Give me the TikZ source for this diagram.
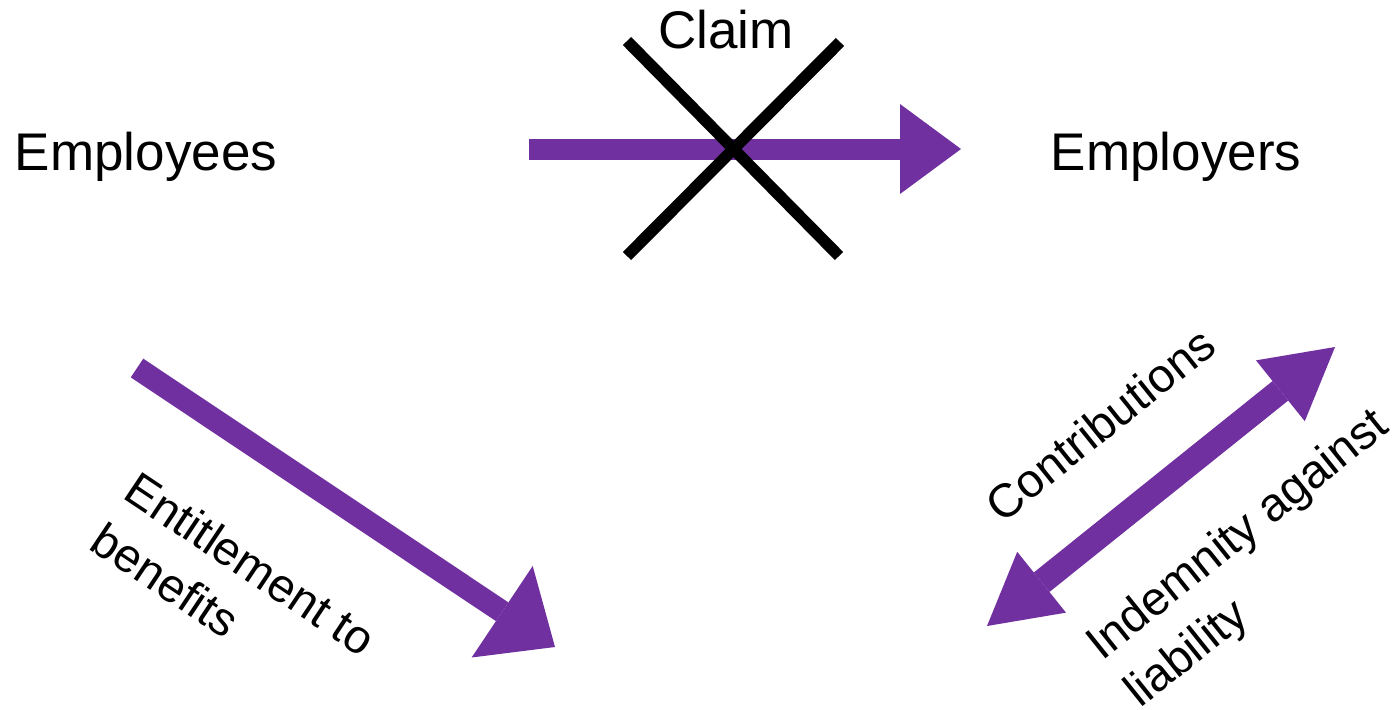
\documentclass[tikz,border=0pt]{standalone}
\usepackage{fontspec}
\setmainfont{Liberation Sans}
\usetikzlibrary{arrows.meta}
\definecolor{plum}{HTML}{7030A0}
\begin{document}
\begin{tikzpicture}[x=0.5pt,y=-0.5pt,
  party/.style={font=\fontsize{26.5}{32}\selectfont, anchor=base, inner sep=0pt},
  tag/.style={font=\fontsize{23.6}{30.5}\selectfont, align=left, inner sep=0pt},
  flow/.style={draw=plum, line width=#1},
  flow/.default=10.5pt,
  cross/.style={draw=black, line width=5.8pt}]
\useasboundingbox (0,0) rectangle (1394,709);

% parties
\node[party] (ees) at (146,170) {Employees};
\node[party] (ers) at (1176,170) {Employers};
\node[party] (claim) at (726,48) {Claim};

% arrow end points
\coordinate (clS) at (529,149);
\coordinate (clE) at (961,149);
\coordinate (enS) at (137,368);
\coordinate (enE) at (555,647);
\coordinate (coA) at (987,626);
\coordinate (coB) at (1335,347);

% claim arrow (struck through)
\draw[flow, -{Triangle[length=30.5pt,width=45pt,line width=0pt]}] (clS) -- (clE);
\coordinate (xa) at (627,41);
\coordinate (xb) at (839,256);
\coordinate (xc) at (840,42);
\coordinate (xd) at (627,256);
\draw[cross] (xa) -- (xb);
\draw[cross] (xc) -- (xd);

% entitlement arrow
\draw[flow=11.25pt, -{Triangle[length=31.75pt,width=55pt,line width=0pt]}] (enS) -- (enE);
\node[tag, rotate=-33.7] (ent) at (234,589) {Entitlement to\\benefits};

% contributions / indemnity arrow
\draw[flow=12.5pt, {Triangle[length=35pt,width=39pt,line width=0pt]}-{Triangle[length=35pt,width=39pt,line width=0pt]}] (coA) -- (coB);
\node[tag, rotate=38.7] (con) at (1100,424) {Contributions};
\node[tag, rotate=38.7] (ind) at (1258,560) {Indemnity against\\liability};
\end{tikzpicture}
\end{document}
